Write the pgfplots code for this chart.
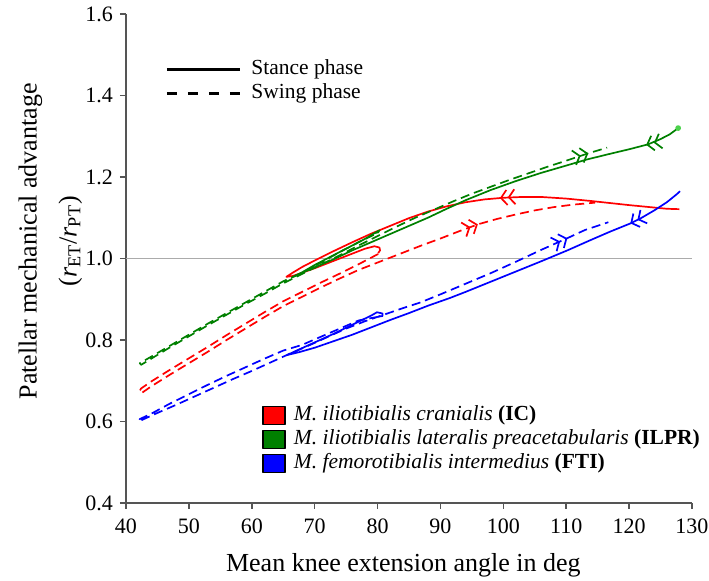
\documentclass[border=0pt]{standalone}
\usepackage{fontspec}
\setmainfont{Liberation Serif}
\usepackage{pgfplots}
\pgfplotsset{compat=1.18}
\usetikzlibrary{arrows.meta,decorations.markings}
\definecolor{icred}{RGB}{255,0,0}
\definecolor{ilgreen}{RGB}{0,128,0}
\definecolor{ftblue}{RGB}{0,0,255}
\definecolor{axgray}{RGB}{85,85,85}
\tikzset{
  chev/.style={postaction={decorate,decoration={markings,mark=at position #1 with
    {\arrow[solid]{Straight Barb[length=3pt,width=7.5pt]Straight Barb[length=3pt,width=7.5pt]}}}}},
  swing/.style={dash pattern=on 4.5pt off 2.5pt},
}
\pgfplotsset{
  sqleg/.style={fill=#1, legend image code/.code={\fill[##1] (0pt,-4.5pt) rectangle (11pt,4.5pt);}},
  lineleg/.style={legend image code/.code={\draw[##1] (0pt,0pt) -- (36.5pt,0pt);}},
  flatleg/.style={legend style={draw=none, fill=none, font=\fontsize{10.75}{13}\selectfont, anchor=north west,
    inner sep=0pt, row sep=0pt, nodes={inner sep=0pt, text height=8.5pt, text depth=3.5pt}}, legend cell align=left},
}

\begin{document}
\begin{tikzpicture}
\begin{axis}[
  scale only axis, width=283pt, height=244.5pt,
  xmin=40, xmax=130, ymin=0.4, ymax=1.6,
  xtick={40,50,...,130}, ytick={0.4,0.6,...,1.61},
  axis lines=left, axis line style={-, axgray, line width=0.75pt},
  tick align=outside, major tick length=3pt, tick style={axgray, line width=0.75pt},
  ticklabel style={font=\fontsize{11}{13}\selectfont},
  /pgf/number format/assume math mode=true,
  yticklabel style={/pgf/number format/.cd, fixed, fixed zerofill, precision=1},
  xticklabel style={yshift=-1.5pt},
  xlabel={Mean knee extension angle in deg},
  xlabel style={font=\fontsize{13}{15}\selectfont, at={(axis description cs:0.49,-0.127)}, anchor=center},
  ylabel={Patellar mechanical advantage\\[4.5pt](\textit{r}\textsubscript{ET}/\textit{r}\textsubscript{PT})},
  ylabel style={font=\fontsize{13}{15.5}\selectfont, align=center, at={(axis description cs:-0.1334,0.535)}, anchor=center},
  clip=false,
  every axis plot/.append style={line width=0.85pt, line join=round},
  flatleg, legend style={at={(axis description cs:0.240,0.2045)}, column sep=4pt},
]
% reference line
\addplot[forget plot, black!33, line width=0.75pt] coordinates {(40,1) (130,1)};

% IC (red)
\addplot[forget plot, icred, chev=0.35] coordinates {
(128,1.121) (126,1.122) (124,1.125) (122,1.128) (120,1.131) (117,1.136) (114,1.141) (110,1.147)
(106,1.151) (103,1.151) (100,1.149) (97,1.145) (94,1.138) (91,1.128) (88,1.115) (85,1.099)
(82,1.08) (79,1.061) (76,1.04) (73,1.018) (70,0.995) (68,0.979) (66.5,0.965) (65.5,0.955)
(66.5,0.957) (68,0.965) (70,0.976) (72,0.988) (74,1.0) (76,1.012) (78,1.024) (79.5,1.03)
(80.3,1.027) (80.4,1.02) (80.1,1.013)};
\addplot[forget plot, icred, swing, chev=0.846] coordinates {
(80.1,1.011) (77,0.986) (74,0.963) (71,0.941) (68,0.918) (65,0.895) (62,0.868) (59,0.84)
(56,0.812) (53,0.783) (50,0.755) (47,0.727) (44,0.698) (42.4,0.681) (42.1,0.673)
(42.6,0.671) (44,0.686) (47,0.715) (50,0.743) (53,0.771) (56,0.8) (59,0.828) (62,0.856)
(65,0.883) (68,0.906) (71,0.929) (74,0.951) (77,0.972) (80,0.99) (83,1.008) (87,1.032)
(90,1.049) (93,1.067) (96,1.084) (99,1.097) (102,1.108) (105,1.118) (108,1.126) (111,1.132)
(114.6,1.137)};

% ILPR (green)
\addplot[forget plot, ilgreen, chev=0.07] coordinates {
(127.8,1.32) (126.5,1.305) (125,1.293) (123,1.28) (120,1.268) (117,1.257) (113.3,1.243)
(110,1.228) (106,1.21) (102,1.19) (98,1.168) (94,1.143) (91,1.122) (88,1.1) (85,1.08)
(82,1.06) (79,1.04) (76,1.02) (73,0.998) (70,0.978) (68,0.965) (66.6,0.955) (68,0.966)
(70,0.984) (72,1.0) (74,1.016) (76,1.032) (78,1.048) (79.5,1.062) (80.3,1.069) (80.1,1.064)
(79.4,1.062)};
\addplot[forget plot, ilgreen, swing, chev=0.975] coordinates {
(79.4,1.058) (77,1.04) (74,1.016) (71,0.99) (68,0.965) (65,0.944) (62,0.918) (59,0.892)
(56,0.866) (53,0.84) (50,0.813) (47,0.786) (44,0.759) (42.2,0.743) (42.4,0.739) (44,0.754)
(47,0.782) (50,0.809) (53,0.836) (56,0.862) (59,0.888) (62,0.913) (65,0.939) (68,0.962)
(71,0.985) (74,1.008) (77,1.032) (80,1.055) (83,1.078) (86,1.1) (89,1.12) (92,1.14)
(95,1.159) (98,1.176) (101,1.193) (104,1.209) (107,1.225) (110,1.24) (113.5,1.258) (116.5,1.272)};
\addplot[forget plot, only marks, mark=*, mark size=1pt, color=green!75!black!70] coordinates {(127.8,1.32)};

% FTI (blue)
\addplot[forget plot, ftblue, chev=0.11] coordinates {
(128.1,1.165) (127.6,1.158) (126,1.138) (124,1.118) (122,1.1) (120.2,1.086) (117,1.066)
(114,1.046) (110.2,1.02) (106,0.993) (102,0.968) (98,0.943) (94,0.918) (91.5,0.903)
(88,0.884) (85,0.866) (82,0.849) (79,0.831) (76,0.813) (73,0.797) (70,0.781) (67.5,0.77)
(65.6,0.763) (67,0.773) (69,0.787) (71,0.801) (73,0.815) (75,0.83) (77,0.845) (79,0.86)
(79.9,0.868) (80.8,0.865) (80.8,0.859) (80.1,0.857)};
\addplot[forget plot, ftblue, swing, chev=0.943] coordinates {
(80.1,0.857) (77,0.848) (74,0.828) (71,0.808) (68,0.788) (65,0.774) (62,0.754) (59,0.733)
(56,0.712) (53,0.69) (50,0.667) (47,0.644) (44,0.619) (42.2,0.606) (42,0.6)
(45,0.621) (48,0.641) (51,0.662) (54,0.683) (57,0.704) (60,0.724) (63,0.745) (66,0.766)
(69,0.786) (72,0.807) (75,0.828) (78,0.846) (81,0.862) (84,0.878) (86.8,0.892) (90,0.912)
(94,0.938) (98,0.964) (102,0.992) (106,1.021) (110.2,1.05) (113,1.07) (116.7,1.089)};

% muscle legend
\addlegendimage{sqleg=icred}
\addlegendentry{\textit{M. iliotibialis cranialis} \textbf{(IC)}}
\addlegendimage{sqleg=ilgreen}
\addlegendentry{\textit{M. iliotibialis lateralis preacetabularis} \textbf{(ILPR)}}
\addlegendimage{sqleg=ftblue}
\addlegendentry{\textit{M. femorotibialis intermedius} \textbf{(FTI)}}
\end{axis}

% phase legend
\begin{axis}[
  scale only axis, width=283pt, height=244.5pt, hide axis,
  xmin=0, xmax=1, ymin=0, ymax=1,
  flatleg, legend style={at={(axis description cs:0.069,0.911)}, column sep=5pt},
]
\addlegendimage{black, line width=1.5pt, lineleg}
\addlegendentry{Stance phase}
\addlegendimage{black, line width=1.5pt, dash pattern=on 5pt off 5.5pt, lineleg}
\addlegendentry{Swing phase}
\end{axis}

\pgfresetboundingbox
\path (-63pt,-39pt) rectangle (291.5pt,251.5pt);
\end{tikzpicture}
\end{document}
